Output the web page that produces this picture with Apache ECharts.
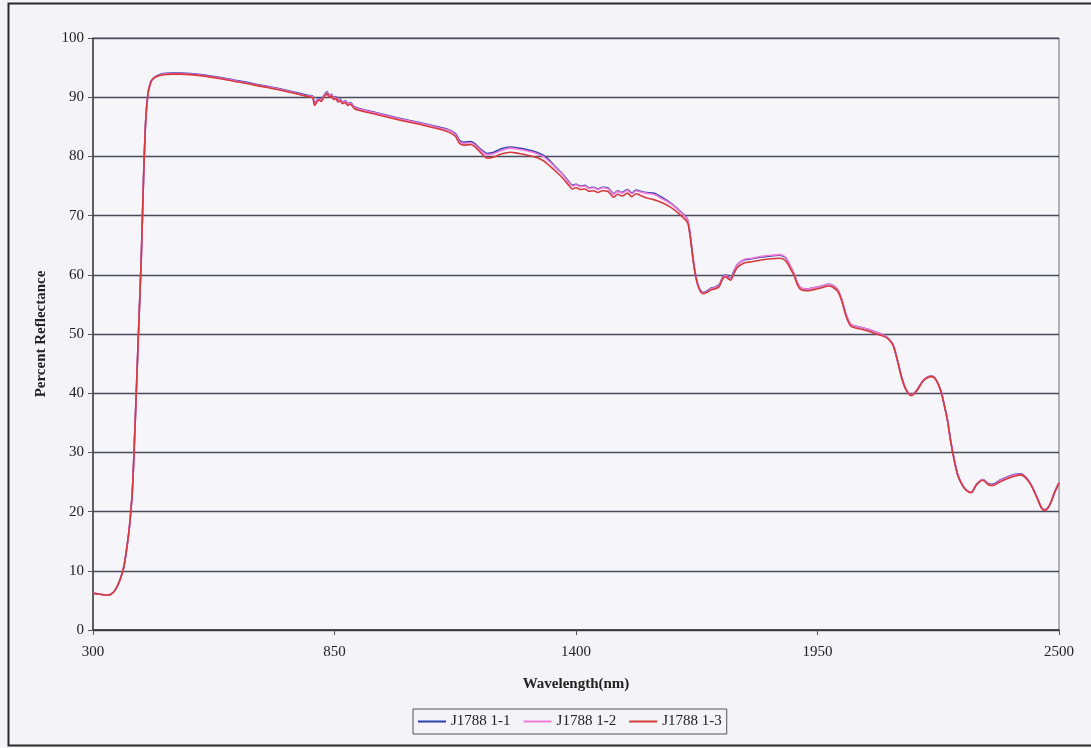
<!DOCTYPE html>
<html>
<head>
<meta charset="utf-8">
<script src="https://cdn.jsdelivr.net/npm/echarts@6/dist/echarts.min.js"></script>
<style>
html,body{margin:0;padding:0;background:#f3f3f8;}
#c{width:1091px;height:748px;}
</style>
</head>
<body>
<div id="c"></div>
<script>
const wavelength = [300,310,320,330,340,350,360,370,380,385,390,395,400,405,410,415,420,425,430,435,445,460,480,500,550,600,650,700,750,790,800,805,810,815,820,825,833,838,843,848,853,858,863,868,875,880,886,895,910,950,1000,1050,1090,1110,1125,1135,1145,1160,1170,1185,1198,1213,1230,1250,1270,1290,1310,1325,1340,1355,1370,1385,1392,1400,1410,1420,1430,1440,1450,1460,1472,1480,1486,1495,1505,1517,1527,1537,1547,1560,1577,1595,1616,1635,1650,1655,1660,1665,1670,1676,1683,1691,1700,1706,1716,1726,1734,1741,1747,1752,1760,1768,1783,1800,1821,1845,1863,1873,1880,1890,1897,1905,1912,1925,1942,1960,1975,1985,1996,2005,2015,2025,2037,2050,2065,2080,2101,2112,2122,2132,2142,2152,2163,2175,2190,2200,2210,2220,2231,2240,2246,2253,2261,2270,2281,2290,2300,2312,2326,2340,2349,2365,2383,2400,2413,2425,2436,2450,2460,2467,2475,2482,2490,2500];

const j1788_1_1 = [6.2,6.1,6.0,5.9,6.0,6.7,8.2,10.6,15.5,19,24,33,43,53,63,76,86,90.5,92.2,93.0,93.6,94.0,94.1,94.1,93.8,93.2,92.5,91.8,91.0,90.3,90.2,88.9,89.5,89.8,89.6,90.2,90.9,90.3,90.5,89.9,90.1,89.5,89.7,89.2,89.4,88.9,89.1,88.4,88.0,87.3,86.4,85.6,84.9,84.5,83.9,82.7,82.4,82.5,82.1,81.1,80.5,80.7,81.3,81.6,81.4,81.1,80.7,80.2,79.3,78.1,77.0,75.6,75.1,75.3,75.0,75.1,74.7,74.8,74.5,74.8,74.7,74.1,73.7,74.2,73.9,74.4,73.8,74.3,74.1,73.9,73.8,73.1,72.1,70.9,69.8,69.1,66.8,63.7,61.0,58.8,57.4,57.0,57.3,57.7,57.9,58.3,59.6,60.0,59.6,59.4,60.7,61.8,62.5,62.7,63.0,63.2,63.3,63.1,62.6,61.2,60.1,58.5,57.8,57.6,57.8,58.1,58.4,58.2,57.5,55.9,53.3,51.7,51.3,51.1,50.8,50.4,49.8,49.2,48.2,45.6,42.6,40.6,39.7,40.4,42.1,42.7,42.9,42.3,40.4,37.6,35.5,32.1,28.9,26.1,24.4,23.6,23.3,24.6,25.4,24.7,24.6,25.3,25.9,26.3,26.4,25.8,24.6,22.4,20.7,20.3,20.7,21.7,23.3,24.9];

const j1788_1_2 = [6.2,6.1,6.0,5.9,6.0,6.7,8.2,10.6,15.5,19,24,33,43,53,63,76,86,90.5,92.2,93.0,93.5,93.9,94.0,94.0,93.7,93.1,92.4,91.7,90.9,90.2,90.1,88.8,89.4,89.7,89.5,90.1,90.8,90.2,90.4,89.8,90.0,89.4,89.6,89.1,89.3,88.8,89.0,88.3,87.9,87.2,86.3,85.5,84.8,84.4,83.7,82.5,82.2,82.3,81.9,80.9,80.3,80.5,81.0,81.4,81.2,80.9,80.5,80.0,79.1,78.0,76.9,75.5,75.0,75.2,74.9,75.0,74.6,74.7,74.4,74.7,74.6,74.0,73.6,74.1,73.8,74.3,73.7,74.2,74.0,73.8,73.6,72.9,72.0,70.8,69.7,69.0,66.7,63.6,60.9,58.7,57.3,56.9,57.2,57.6,57.8,58.2,59.5,59.9,59.5,59.3,60.6,61.8,62.6,62.8,63.1,63.3,63.4,63.2,62.7,61.2,60.1,58.5,57.8,57.6,57.8,58.1,58.4,58.2,57.5,55.9,53.3,51.7,51.3,51.1,50.8,50.4,49.8,49.2,48.2,45.6,42.6,40.6,39.7,40.4,42.1,42.7,42.9,42.3,40.4,37.6,35.5,32.1,28.9,26.1,24.4,23.6,23.3,24.6,25.4,24.6,24.5,25.2,25.8,26.2,26.3,25.7,24.6,22.4,20.7,20.3,20.7,21.7,23.3,24.9];

const j1788_1_3 = [6.2,6.1,6.0,5.9,6.0,6.7,8.2,10.6,15.5,19,24,33,43,53,63,76,86,90.5,92.2,93.0,93.5,93.8,93.9,93.9,93.6,93.0,92.3,91.6,90.8,90.1,89.9,88.6,89.2,89.5,89.3,89.9,90.6,90.0,90.2,89.6,89.8,89.2,89.4,88.9,89.1,88.6,88.8,88.1,87.7,87.0,86.1,85.3,84.6,84.1,83.4,82.2,81.9,82.0,81.6,80.5,79.7,79.9,80.4,80.7,80.5,80.2,79.8,79.3,78.4,77.4,76.3,75.0,74.5,74.7,74.4,74.5,74.1,74.2,73.9,74.2,74.1,73.5,73.1,73.6,73.3,73.8,73.2,73.7,73.4,73.0,72.7,72.2,71.4,70.3,69.2,68.6,66.5,63.5,60.8,58.6,57.2,56.8,57.1,57.4,57.6,58.0,59.3,59.7,59.3,59.1,60.3,61.3,62.0,62.2,62.5,62.7,62.8,62.6,62.1,60.8,59.8,58.2,57.5,57.3,57.5,57.8,58.1,57.9,57.2,55.6,53.0,51.4,51.0,50.8,50.5,50.1,49.6,49.1,48.1,45.5,42.5,40.5,39.6,40.3,42.0,42.6,42.8,42.2,40.3,37.5,35.4,32.0,28.8,26.0,24.3,23.5,23.2,24.5,25.3,24.5,24.4,25.0,25.6,26.0,26.2,25.6,24.5,22.3,20.6,20.2,20.6,21.6,23.2,24.8];

const seriesNames = ['J1788 1-1','J1788 1-2','J1788 1-3'];
const xTickValues = [300,850,1400,1950,2500];
const yTicks = {min:0, max:100, step:10};

const seriesValues = [j1788_1_1, j1788_1_2, j1788_1_3];
const colors = ['#2f3fb2','#f27ad8','#d63a3c'];

const chart = echarts.init(document.getElementById('c'), null, {renderer:'canvas'});
const serif = '"Liberation Serif","DejaVu Serif",serif';

chart.setOption({
  animation:false,
  backgroundColor:'#f3f3f8',
  graphic:[{
    type:'polyline', shape:{points:[[1091,3.5],[8.5,3.5],[8.5,745.5],[1091,745.5]]},
    style:{fill:null, stroke:'#2a2a2a', lineWidth:2}, silent:true, z:-1
  }],
  grid:{left:93, right:32, top:38, bottom:118, show:true, borderColor:'#6d6d78', borderWidth:1, backgroundColor:'#f5f5fa'},
  legend:{
    data:seriesNames, left:413, top:709,
    icon:'rect', itemWidth:28, itemHeight:2, itemGap:13,
    borderColor:'#555', borderWidth:1, padding:[5,5,5,5],
    textStyle:{fontFamily:serif, fontSize:15, color:'#222'}
  },
  xAxis:{
    type:'value', min:300, max:2500,
    name:'Wavelength(nm)', nameLocation:'middle', nameGap:47,
    nameTextStyle:{fontFamily:serif, fontSize:15, fontWeight:'bold', color:'#222'},
    axisLine:{show:true, lineStyle:{color:'#333', width:1.5}},
    axisTick:{show:true, customValues:xTickValues, length:5, lineStyle:{color:'#555'}},
    axisLabel:{customValues:xTickValues, formatter:v=>String(v), fontFamily:serif, fontSize:15, color:'#222', margin:15},
    splitLine:{show:false}
  },
  yAxis:{
    type:'value', min:yTicks.min, max:yTicks.max, interval:yTicks.step,
    name:'Percent Reflectance', nameLocation:'middle', nameGap:44, nameRotate:90,
    nameTextStyle:{fontFamily:serif, fontSize:15, fontWeight:'bold', color:'#222'},
    axisLine:{show:true, lineStyle:{color:'#444', width:1.5}},
    axisTick:{show:true, inside:false, length:5, lineStyle:{color:'#555'}},
    axisLabel:{formatter:v=>String(v), fontFamily:serif, fontSize:15, color:'#222', margin:9},
    splitLine:{show:true, lineStyle:{color:'#4a4a5a', width:1.3}}
  },
  series: seriesNames.map((n,i)=>({
    name:n, type:'line', showSymbol:false, symbol:'none', smooth:0.3,
    data: wavelength.map((w,k)=>[w, seriesValues[i][k]]),
    lineStyle:{color:colors[i], width:1.6},
    itemStyle:{color:colors[i]},
    z: 2+i
  }))
});
</script>
</body>
</html>
